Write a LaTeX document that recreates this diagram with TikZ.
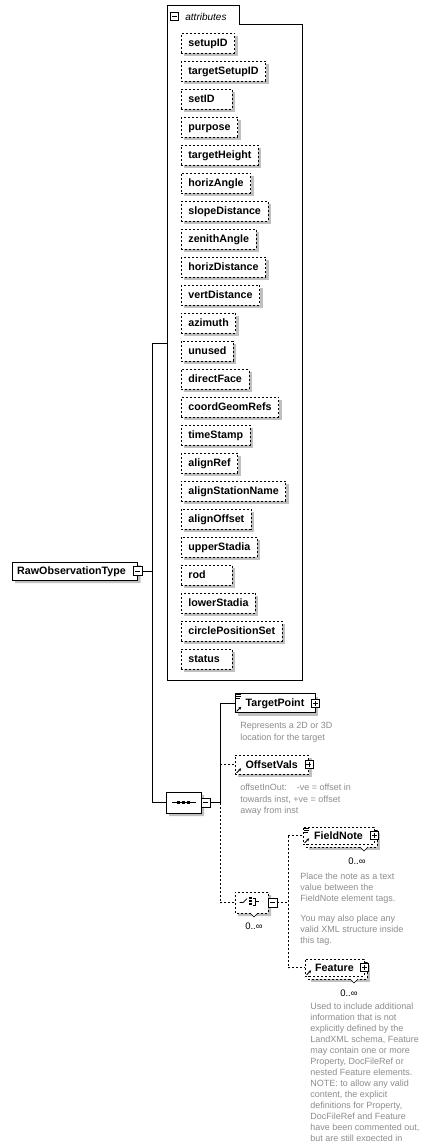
\documentclass[tikz,border=0pt]{standalone}
\usepackage{fontspec}
\setmainfont{Liberation Sans}
\usetikzlibrary{shadows,shapes.misc,arrows.meta}
\definecolor{shgray}{RGB}{192,192,192}
\definecolor{descgray}{RGB}{140,140,140}
\newcommand\attrtext[1]{\sbox0{#1}\ifdim\wd0<37pt\makebox[37pt][l]{#1}\else#1\fi}
\begin{document}
\begin{tikzpicture}[x=1pt,y=-1pt,line width=0.8pt,
  shad/.style={drop shadow={shadow xshift=3pt,shadow yshift=-3pt,fill=shgray,opacity=1}},
  dsh/.style={dash pattern=on 2pt off 2pt},
  lblfont/.style={font=\bfseries\fontsize{10.7}{12}\selectfont},
  attr/.style={draw,dsh,fill=white,shad,lblfont,inner xsep=7pt,inner ysep=0pt,
    minimum height=20pt,anchor=west,text height=7.7pt,text depth=0pt},
  elem/.style={draw,fill=white,lblfont,inner sep=0pt,text height=7.7pt,text depth=0pt},
  elemback/.style={draw,dsh,fill=white,shad,inner sep=0pt},
  lbl/.style={lblfont,inner sep=0pt,text height=7.7pt,text depth=0pt},
  desc/.style={font=\fontsize{9}{11}\selectfont,text=descgray,anchor=base west,inner sep=0pt},
  mult/.style={font=\fontsize{9.5}{11}\selectfont,anchor=base east,inner sep=0pt},
  sqbox/.style={draw,fill=white,minimum size=8pt,inner sep=0pt,line width=0.7pt},
  minusbox/.style={sqbox,path picture={\draw[line width=0.7pt]
    ([xshift=-2.5pt]path picture bounding box.center)--([xshift=2.5pt]path picture bounding box.center);}},
  plusbox/.style={sqbox,path picture={\draw[line width=0.7pt]
    ([xshift=-2.5pt]path picture bounding box.center)--([xshift=2.5pt]path picture bounding box.center)
    ([yshift=-2.5pt]path picture bounding box.center)--([yshift=2.5pt]path picture bounding box.center);}},
  compositor/.style={chamfered rectangle,chamfered rectangle xsep=4.5pt,chamfered rectangle ysep=4.5pt,
    draw,fill=white,shad,minimum width=35pt,minimum height=21pt,inner sep=0pt},
  refarrow/.style={-{Stealth[length=2.6pt,width=2.8pt]},line width=0.9pt},
  docline/.style={line width=0.6pt}
]
\path[use as bounding box,clip] (0,0) rectangle (442,1141);

% ---------------- attributes group ----------------
\draw[fill=white] (167,5) -- (239,5) -- (239,24) -- (302,24) -- (302,680) -- (167,680) -- cycle;
\coordinate (attrL) at (167,343);
\node[minusbox] (attrm) at (174.5,16.5) {};
\node[font=\itshape\fontsize{10}{12}\selectfont,anchor=west,inner sep=0pt] (attrlbl) at (185,16.5) {attributes};
\foreach \n [count=\i from 0] in {setupID,targetSetupID,setID,purpose,targetHeight,horizAngle,
  slopeDistance,zenithAngle,horizDistance,vertDistance,azimuth,unused,directFace,coordGeomRefs,
  timeStamp,alignRef,alignStationName,alignOffset,upperStadia,rod,lowerStadia,circlePositionSet,status}
  \node[attr] (a\i) at (181,{43+28*\i}) {\attrtext{\n}};

% ---------------- RawObservationType ----------------
\node[chamfered rectangle,chamfered rectangle corners={north west,south west},
  chamfered rectangle xsep=3pt,chamfered rectangle ysep=3pt,
  draw,fill=white,shad,minimum width=125.5pt,minimum height=18pt,inner sep=0pt] (rotb) at (74.75,571) {};
\node[lbl] (rot) at (71.5,571) {RawObservationType};
\node[minusbox,minimum size=9pt] (rotm) at (137.5,571) {};

\coordinate (j1) at (152,343);
\coordinate (j2) at (152,802.5);
\draw (rotm.east) -- (rotm.east -| j1);
\draw (j1) -- (j2);
\draw (j1) -- (attrL);

% ---------------- sequence ----------------
\node[compositor] (seq) at (183.5,802.5) {};
\draw[line width=0.8pt] (171.5,802.5) -- (195.5,802.5);
\foreach \dx [count=\i] in {176.5,181.5,186.5}
  \fill (\dx,801) rectangle ++(3.2,3.2);
\node[minusbox,minimum size=9pt] (seqm) at (205.5,802.5) {};
\draw (j2) -- (seq.west);

\coordinate (j3) at (220,703);
\coordinate (j4) at (220,802.5);
\coordinate (j5) at (220,902.5);
\draw (seqm.east) -- (j4);
\draw (j3) -- (j4);
\draw[dsh] (j4) -- (j5);

% ---------------- TargetPoint ----------------
\node[elem,shad,minimum width=80pt,minimum height=19pt] (tp) at (275,703) {TargetPoint};
\node[plusbox] (tpp) at (tp.east) {};
\draw[docline] ([shift={(1.5,1.3)}]tp.north west) -- ++(5,0) ++(-5,2) -- ++(5,0) ++(-5,2) -- ++(3.5,0);
\draw[refarrow] ([shift={(2,-1.5)}]tp.south west) -- ++(4.5,-4.5);
\draw (j3) -- (tp.west);
\node[desc] (tpd1) at (240,728.6) {Represents a 2D or 3D};
\node[desc] (tpd2) at (240,740.1) {location for the target};

% ---------------- OffsetVals ----------------
\node[elem,shad,dsh,minimum width=73.5pt,minimum height=19pt] (ov) at (271.75,764.5) {OffsetVals};
\node[plusbox] (ovp) at (ov.east) {};
\draw[refarrow] ([shift={(2,-1.5)}]ov.south west) -- ++(4.5,-4.5);
\draw[dsh] (j3 |- ov.west) -- (ov.west);
\node[desc] (ovd1) at (240,790.6) {offsetInOut:\hspace{10pt}-ve = offset in};
\node[desc] (ovd2) at (240,802.1) {towards inst, +ve = offset};
\node[desc] (ovd3) at (240,813.6) {away from inst};

% ---------------- choice ----------------
\node[compositor,dsh,minimum width=33pt] (ch) at (251.5,902.5) {};
\path[fill=white] (250,912.6) -- (254,916.6) -- (258,912.6) -- cycle;
\draw[line width=0.6pt] (250,913) -- (254,917) -- (258,913);
\draw[line width=0.7pt] (239.5,902.5) -- (243,902.5) -- (247,898.5);
\foreach \yy in {897,900,903}
  \fill (249,\yy) rectangle ++(2.6,2.2);
\draw[line width=0.6pt] (252.5,897.8) -- (255.5,897.8) -- (255.5,905.3) -- (252.5,905.3);
\draw[line width=0.6pt] (255.5,901.5) -- (259,901.5);
\node[minusbox,minimum size=9pt] (chm) at (272.5,902.5) {};
\node[mult] (chmult) at (263,929.5) {0..∞};
\draw[dsh] (j5) -- (ch.west);

\coordinate (j6) at (288,835.5);
\coordinate (j7) at (288,967.5);
\draw[dsh] (chm.east) -- (chm.east -| j6);
\draw[dsh] (j6) -- (j7);

% ---------------- FieldNote ----------------
\node[elemback,minimum width=71pt,minimum height=17pt] (fnb) at (341.5,838.5) {};
\node[elem,dsh,minimum width=71pt,minimum height=17pt] (fn) at (338.5,835.5) {FieldNote};
\node[plusbox] (fnp) at (fn.east) {};
\draw[docline] ([shift={(1.5,1.3)}]fn.north west) -- ++(5,0) ++(-5,2) -- ++(5,0) ++(-5,2) -- ++(3.5,0);
\draw[refarrow] ([shift={(2,-1.5)}]fn.south west) -- ++(4.5,-4.5);
\path[fill=white] (360,846.6) -- (364,850.6) -- (368,846.6) -- cycle;
\draw[line width=0.6pt] (360,847) -- (364,851) -- (368,847);
\node[mult] (fnmult) at (366,864) {0..∞};
\draw[dsh] (j6) -- (fn.west);
\foreach \t [count=\k from 0] in {{Place the note as a text},{value between the},{FieldNote element tags.}}
  \node[desc] (fnd\k) at (300,{879.3+11*\k}) {\t};
\foreach \t [count=\k from 0] in {{You may also place any},{valid XML structure inside},{this tag.}}
  \node[desc] (fne\k) at (300,{921.3+11*\k}) {\t};

% ---------------- Feature ----------------
\node[elemback,minimum width=59pt,minimum height=17pt] (feb) at (337.5,970.5) {};
\node[elem,dsh,minimum width=59pt,minimum height=17pt] (fe) at (334.5,967.5) {Feature};
\node[plusbox] (fep) at (fe.east) {};
\draw[refarrow] ([shift={(2,-1.5)}]fe.south west) -- ++(4.5,-4.5);
\path[fill=white] (350,978.6) -- (354,982.6) -- (358,978.6) -- cycle;
\draw[line width=0.6pt] (350,979) -- (354,983) -- (358,979);
\node[mult] (femult) at (358,996) {0..∞};
\draw[dsh] (j7) -- (fe.west);
\foreach \t [count=\k from 0] in {{Used to include additional},{information that is not},
  {explicitly defined by the},{LandXML schema, Feature},{may contain one or more},
  {Property, DocFileRef or},{nested Feature elements.},{NOTE: to allow any valid},
  {content, the explicit},{definitions for Property,},{DocFileRef and Feature},
  {have been commented out,},{but are still expected in}}
  \node[desc] (fed\k) at (310,{1009.8+11*\k}) {\t};
\end{tikzpicture}
\end{document}
